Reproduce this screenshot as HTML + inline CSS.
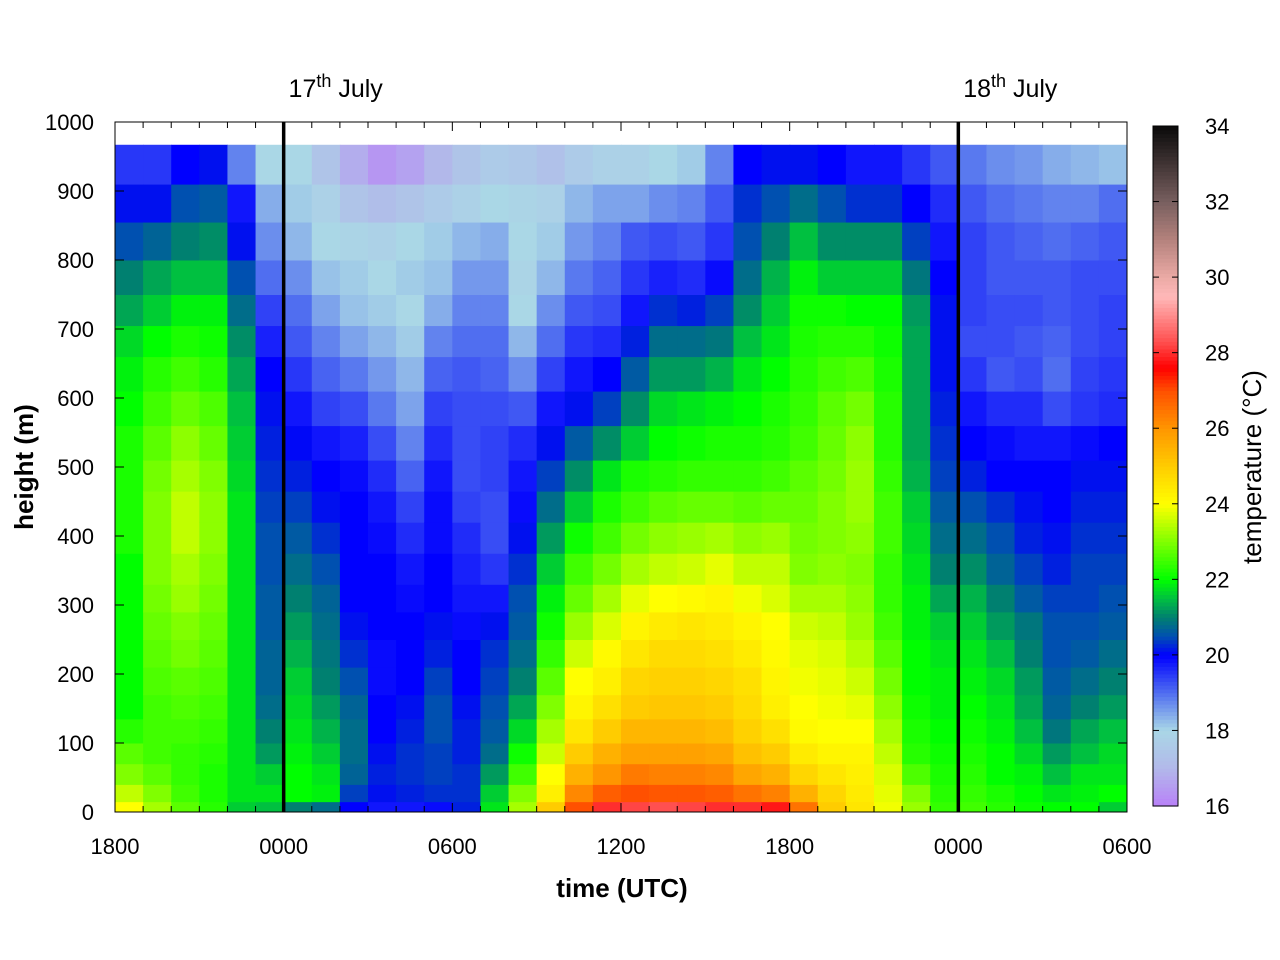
<!DOCTYPE html>
<html><head><meta charset="utf-8"><style>
html,body{margin:0;padding:0;background:#fff;}
svg{display:block;font-family:"Liberation Sans",sans-serif;}
</style></head><body>
<svg id="chart" width="1280" height="960" viewBox="0 0 1280 960" xmlns="http://www.w3.org/2000/svg">
<g id="cells"></g>
<g id="axes"></g>
<g id="cbar"></g>
</svg>
<script>
// hours since 1800 on 16th July; each column is one hour
const hourStarts = Array.from({length:36},(_,i)=>i);
const heightEdges = [0,15,40,70,100,135,170,210,250,290,330,375,420,465,510,560,610,660,705,750,800,855,910,967];
const xTickLabels = ["1800","0000","0600","1200","1800","0000","0600"];
const xTickHours = [0,6,12,18,24,30,36];
const yTicks = [0,100,200,300,400,500,600,700,800,900,1000];
const cbTicks = [16,18,20,22,24,26,28,30,32,34];
const dayLines = [{h:6,label:"17",sup:"th",rest:" July"},{h:30,label:"18",sup:"th",rest:" July"}];
// temperature per column (bottom to top rows)
const temps = [
[24,23.5,23,22.7,22.3,22,22,22,22,22,22,22.2,22.2,22.2,22.2,22,21.9,21.7,21.3,21,20.5,20.1,19.5],
[23.3,23,22.7,22.5,22.5,22.5,22.6,22.7,22.8,22.9,23,23,23,22.9,22.7,22.5,22.3,22,21.6,21.3,20.7,20.1,19.5],
[22.7,22.5,22.4,22.4,22.5,22.6,22.7,22.9,23,23.2,23.3,23.5,23.5,23.3,23.1,22.8,22.5,22.2,21.9,21.5,21,20.5,20],
[22.3,22.2,22.2,22.3,22.4,22.5,22.6,22.7,22.8,22.9,23,23.1,23.1,23,22.8,22.6,22.3,22.1,21.9,21.5,21.1,20.6,20.1],
[21.6,21.8,21.8,21.8,21.8,21.8,21.8,21.8,21.8,21.8,21.8,21.8,21.8,21.7,21.6,21.5,21.3,21.1,20.8,20.5,20.1,19.8,18.8],
[21.5,21.8,21.6,21.2,21,20.8,20.7,20.7,20.6,20.6,20.5,20.5,20.4,20.3,20.2,20.1,20,19.7,19.4,19,18.7,18.4,18],
[21,22,22,21.9,21.8,21.7,21.6,21.4,21.2,21,20.8,20.6,20.4,20.2,20.05,19.8,19.5,19.2,19,18.7,18.3,18.1,18],
[20.8,21.9,21.8,21.6,21.4,21.2,21,20.9,20.8,20.7,20.5,20.3,20.1,20,19.8,19.4,19.1,18.8,18.5,18.2,18,17.8,17.4],
[20,20.4,20.7,20.8,20.8,20.7,20.5,20.3,20.1,20,20,20,20,19.9,19.7,19.3,18.9,18.5,18.2,18.1,17.9,17.4,16.8],
[19.8,20.1,20.2,20.1,20,20,19.9,19.9,20,20,20,19.9,19.8,19.6,19.3,18.9,18.6,18.3,18.1,18,17.8,17.2,16.4],
[19.8,20.2,20.3,20.3,20.2,20.1,20,20,20,19.9,19.8,19.6,19.4,19.1,18.8,18.5,18.3,18.1,18,18.1,18,17.4,16.6],
[19.9,20.3,20.4,20.4,20.5,20.5,20.4,20.2,20.1,20,20,19.9,19.9,19.8,19.6,19.4,19.1,18.8,18.4,18.2,18.1,17.6,17],
[20.2,20.3,20.3,20.2,20.2,20.1,20,20,19.9,19.8,19.7,19.6,19.4,19.3,19.3,19.3,19.2,19,18.8,18.6,18.3,17.8,17.4],
[21.8,21.6,21.2,20.8,20.6,20.5,20.4,20.3,20.1,19.8,19.5,19.3,19.3,19.4,19.4,19.3,19.1,19,18.8,18.6,18.4,18,17.6],
[23.3,23,22.5,22.1,21.7,21.3,21,20.8,20.6,20.5,20.3,20.1,19.9,19.8,19.6,19.2,18.7,18.3,18,17.9,18,17.9,17.5],
[25,24.3,24,23.6,23.3,23,22.7,22.4,22.1,21.9,21.6,21.2,20.8,20.4,20.1,19.8,19.4,19,18.7,18.3,18.1,17.8,17.3],
[27,26.2,25.5,25,24.5,24.2,24,23.6,23.2,22.8,22.5,22.1,21.6,21.1,20.6,20.1,19.8,19.5,19.2,18.9,18.6,18.3,17.6],
[28,26.8,26,25.5,25,24.6,24.3,24.1,23.7,23.3,22.9,22.5,22.2,21.8,21.1,20.4,20,19.6,19.3,19.1,18.8,18.5,17.8],
[28.2,27,26.4,25.8,25.4,25,24.8,24.5,24.2,23.8,23.3,22.9,22.5,22.2,21.6,21.1,20.6,20.2,19.8,19.5,19.2,18.5,17.8],
[28.3,26.9,26.3,25.8,25.4,25.1,24.9,24.7,24.4,24,23.5,23.1,22.7,22.3,22,21.7,21.2,20.8,20.3,19.7,19.3,18.7,18],
[28.2,26.9,26.3,25.8,25.4,25.1,24.9,24.7,24.5,24.1,23.6,23.2,22.8,22.4,22.1,21.8,21.2,20.8,20.2,19.6,19.2,18.8,18.1],
[28,26.8,26.2,25.7,25.3,25,24.8,24.6,24.4,24.2,23.8,23.3,22.8,22.4,22.2,21.9,21.4,20.9,20.4,19.9,19.5,19.2,18.8],
[28,26.5,25.7,25.2,24.9,24.7,24.6,24.4,24.2,23.9,23.5,23.1,22.7,22.4,22.2,22,21.8,21.5,21.1,20.8,20.5,20.3,20],
[27.8,26.3,25.5,25,24.6,24.3,24.2,24.1,24,23.7,23.5,23.2,22.8,22.5,22.3,22.2,22,21.8,21.6,21.4,21,20.5,20.1],
[26.5,25.5,24.8,24.4,24.1,24,23.9,23.8,23.6,23.3,23,22.9,22.8,22.7,22.5,22.4,22.3,22.2,22.1,21.9,21.5,20.8,20.1],
[25,24.8,24.5,24.2,24,23.9,23.8,23.7,23.5,23.3,23.1,23,23,22.9,22.8,22.7,22.5,22.3,22.1,21.6,21.1,20.5,20],
[24.5,24.4,24.3,24.2,24,23.8,23.6,23.4,23.2,23.1,23,23.1,23.2,23.2,23.1,22.9,22.6,22.3,22,21.6,21.1,20.3,19.8],
[23.9,23.8,23.7,23.5,23.3,23.1,22.9,22.7,22.5,22.4,22.4,22.5,22.5,22.4,22.3,22.3,22.2,22.1,22,21.6,21.1,20.3,19.8],
[23.2,23,22.6,22.3,22.2,22.1,22,22,21.9,21.9,21.8,21.7,21.6,21.4,21.3,21.3,21.3,21.3,21.2,20.9,20.4,20,19.5],
[22.4,22.3,22.2,22.1,22,21.9,21.9,21.8,21.6,21.3,21,20.8,20.6,20.4,20.3,20.2,20.1,20.1,20.1,20,19.8,19.6,19.2],
[22.5,22.4,22.3,22.2,22.1,22,21.9,21.8,21.6,21.4,21.1,20.8,20.5,20.2,20,19.8,19.5,19.3,19.4,19.4,19.4,19.2,18.9],
[22.3,22.2,22,22,21.9,21.8,21.7,21.5,21.2,21,20.7,20.5,20.3,20,19.9,19.6,19.2,19.3,19.3,19.2,19.2,19,18.7],
[22.1,22,21.9,21.7,21.5,21.3,21.2,21,20.9,20.6,20.4,20.2,20.1,20,19.8,19.6,19.3,19.2,19.3,19.2,19.1,18.9,18.6],
[22,21.8,21.5,21.2,20.9,20.7,20.6,20.5,20.5,20.4,20.2,20.1,20,20,19.8,19.3,19,19.1,19.2,19.2,19,18.8,18.4],
[22,21.9,21.8,21.5,21.3,21,20.8,20.6,20.5,20.4,20.4,20.3,20.2,20.1,19.9,19.5,19.4,19.3,19.3,19.3,19.1,18.8,18.3],
[21.6,22,21.8,21.7,21.5,21.2,21,20.8,20.6,20.5,20.4,20.3,20.2,20.1,20,19.6,19.5,19.4,19.4,19.3,19.2,19,18.2]
];
const NS="http://www.w3.org/2000/svg";
const PX0=115,PX1=1127,PY0=812,PY1=122;
const xs=h=>PX0+h*(PX1-PX0)/36;
const ys=m=>PY0-m*(PY0-PY1)/1000;
const stops=[[16,[184,128,248]],[17,[178,184,234]],[18,[170,215,230]],[19,[80,110,240]],[20,[0,0,255]],[20.5,[0,80,176]],[21,[0,128,112]],[21.5,[0,192,64]],[22,[0,255,0]],[23,[128,255,0]],[24,[255,255,0]],[25,[255,204,0]],[26,[255,150,0]],[27,[255,80,0]],[27.6,[255,0,0]],[28.3,[255,80,80]],[29.5,[255,185,185]],[30,[235,170,165]],[31,[180,130,125]],[32,[120,95,95]],[34,[10,10,10]]];
function col(t){
 if(t<=stops[0][0])return `rgb(${stops[0][1]})`;
 for(let i=1;i<stops.length;i++){if(t<=stops[i][0]){const a=stops[i-1],b=stops[i],f=(t-a[0])/(b[0]-a[0]);
  return `rgb(${a[1].map((v,k)=>Math.round(v+(b[1][k]-v)*f)).join(',')})`;}}
 return `rgb(${stops[stops.length-1][1]})`;
}
function mk(tag,attrs,parent){const e=document.createElementNS(NS,tag);for(const k in attrs)e.setAttribute(k,attrs[k]);parent.appendChild(e);return e;}
const cells=document.getElementById('cells');
temps.forEach((column,ci)=>{
 column.forEach((t,ri)=>{
  const x0=xs(hourStarts[ci]),x1=xs(hourStarts[ci]+1),y0=ys(heightEdges[ri]),y1=ys(heightEdges[ri+1]);
  const r=mk('rect',{x:x0,y:y1,width:x1-x0+0.5,height:y0-y1+0.5,fill:col(t)},cells);
  
  
 });
});
const ax=document.getElementById('axes');
dayLines.forEach(d=>{
 const l=mk('line',{x1:xs(d.h),x2:xs(d.h),y1:PY1,y2:PY0,stroke:'#000','stroke-width':3.5},ax);
 
 
 const t=mk('text',{x:xs(d.h)+52,y:97,'font-size':25,'text-anchor':'middle'},ax);
 
 
 t.innerHTML=`${d.label}<tspan dy="-10" font-size="18">${d.sup}</tspan><tspan dy="10">${d.rest}</tspan>`;
});
const frame=mk('rect',{x:PX0,y:PY1,width:PX1-PX0,height:PY0-PY1,fill:'none',stroke:'#000','stroke-width':1},ax);


for(let h=1;h<36;h++){
 const len=(h%6===0)?9:6;
 mk('line',{x1:xs(h),x2:xs(h),y1:PY0,y2:PY0-len,stroke:'#000'},ax);
 mk('line',{x1:xs(h),x2:xs(h),y1:PY1,y2:PY1+len,stroke:'#000'},ax);
}
xTickHours.forEach((h,i)=>{
 const t=mk('text',{x:xs(h),y:854,'font-size':22,'text-anchor':'middle'},ax);
 
 
 t.textContent=xTickLabels[i];
});
yTicks.forEach(v=>{
 mk('line',{x1:PX0,x2:PX0+9,y1:ys(v),y2:ys(v),stroke:'#000'},ax);
 mk('line',{x1:PX1,x2:PX1-9,y1:ys(v),y2:ys(v),stroke:'#000'},ax);
 const t=mk('text',{x:94,y:ys(v)+8,'font-size':22,'text-anchor':'end'},ax);
 
 
 t.textContent=v;
});
const xt=mk('text',{x:622,y:897,'font-size':26,'font-weight':'bold','text-anchor':'middle'},ax);


xt.textContent='time (UTC)';
const yt=mk('text',{x:0,y:0,'font-size':26,'font-weight':'bold','text-anchor':'middle',transform:'translate(33,467) rotate(-90)'},ax);


yt.textContent='height (m)';
const cb=document.getElementById('cbar');
const CX=1153,CW=25,CY0=806,CY1=126;
const cby=t=>CY0-(t-16)*(CY0-CY1)/18;
for(let i=0;i<180;i++){
 const t=16+i*0.1;
 mk('rect',{x:CX,y:cby(t+0.1),width:CW,height:(CY0-CY1)/180+0.6,fill:col(t+0.05)},cb);
}
mk('rect',{x:CX,y:CY1,width:CW,height:CY0-CY1,fill:'none',stroke:'#000'},cb);
cbTicks.forEach(v=>{
 mk('line',{x1:CX,x2:CX+6,y1:cby(v),y2:cby(v),stroke:'#000'},cb);
 mk('line',{x1:CX+CW,x2:CX+CW-6,y1:cby(v),y2:cby(v),stroke:'#000'},cb);
 const t=mk('text',{x:1205,y:cby(v)+8,'font-size':22},cb);
 
 
 t.textContent=v;
});
const ct=mk('text',{x:0,y:0,'font-size':26,'text-anchor':'middle',transform:'translate(1261,467) rotate(-90)'},cb);


ct.textContent='temperature (°C)';
</script>
</body></html>
